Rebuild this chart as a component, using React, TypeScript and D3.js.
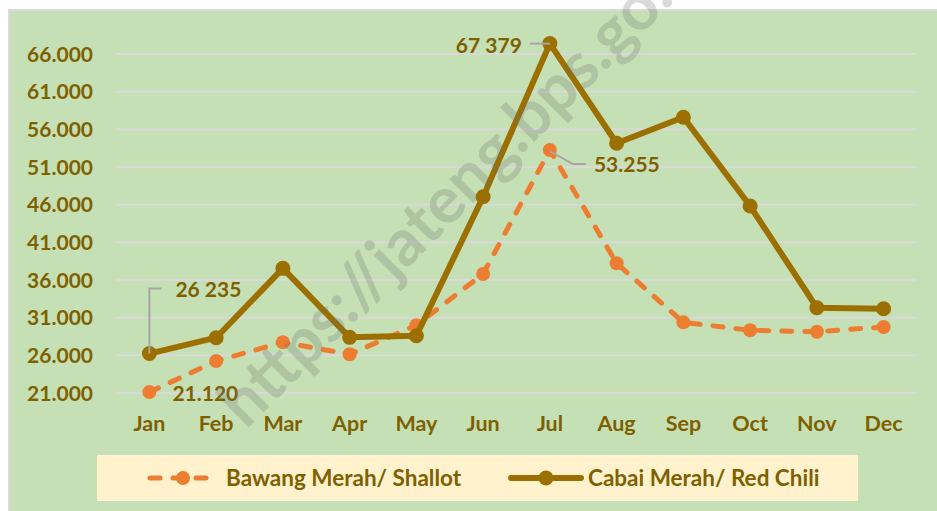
import React from "react";
import * as d3 from "d3";

// monthly prices (Rp/kg)
const months = ["Jan", "Feb", "Mar", "Apr", "May", "Jun", "Jul", "Aug", "Sep", "Oct", "Nov", "Dec"];
const shallot = [21120, 25250, 27730, 26140, 30000, 36800, 53255, 38220, 30380, 29320, 29140, 29760];
const chili = [26235, 28340, 37550, 28390, 28600, 47060, 67379, 54150, 57600, 45820, 32320, 32190];
const yTicks = [21000, 26000, 31000, 36000, 41000, 46000, 51000, 56000, 61000, 66000];
const seriesNames = ["Bawang Merah/ Shallot", "Cabai Merah/ Red Chili"];

const W = 937;
const H = 511;
const FONT = "Lato, 'Open Sans', sans-serif";
const TXT = "#7F6000";
const ORANGE = "#ED7D31";
const GOLD = "#9C7000";

const dotFmt = d3.formatLocale({ decimal: ",", thousands: ".", grouping: [3], currency: ["", ""] }).format(",");
const spaceFmt = d3.formatLocale({ decimal: ",", thousands: " ", grouping: [3], currency: ["", ""] }).format(",");

export default function App() {
  const x = d3.scalePoint<string>().domain(months).range([116, 917]).padding(0.5);
  const y = d3.scaleLinear().domain([21000, 66000]).range([393, 54]);

  const line = d3
    .line<number>()
    .x((_, i) => x(months[i]) as number)
    .y(d => y(d));

  // points that carry a data label
  const sJan = { x: x("Jan") as number, y: y(shallot[0]) };
  const sJul = { x: x("Jul") as number, y: y(shallot[6]) };
  const cJan = { x: x("Jan") as number, y: y(chili[0]) };
  const cJul = { x: x("Jul") as number, y: y(chili[6]) };

  return (
    <svg width={W} height={H} style={{ position: "absolute", left: 0, top: 0 }} fontFamily={FONT}>
      <rect x={0} y={0} width={W} height={H} fill="#fff" />
      <rect x={9} y={10} width={W + 10} height={H} fill="#C5E0B4" stroke="#D9D9D9" strokeWidth={2} />

      {/* gridlines */}
      {yTicks.map(t => (
        <line key={t} x1={116} x2={917} y1={y(t)} y2={y(t)} stroke="#D9D9D9" strokeWidth={2} />
      ))}

      {/* y labels */}
      {yTicks.map(t => (
        <text key={"l" + t} x={93} y={y(t)} dy="0.36em" textAnchor="end" fontSize={21} fontWeight={700} fill={TXT}>
          {dotFmt(t)}
        </text>
      ))}

      {/* x labels */}
      {months.map(m => (
        <text key={m} x={x(m)} y={431} textAnchor="middle" fontSize={21.5} fontWeight={700} fill={TXT}>
          {m}
        </text>
      ))}

      {/* shallot */}
      <path d={line(shallot) as string} fill="none" stroke={ORANGE} strokeWidth={5} strokeDasharray="10 13" strokeLinecap="round" />
      {shallot.map((v, i) => (
        <circle key={"s" + i} cx={x(months[i])} cy={y(v)} r={7} fill={ORANGE} />
      ))}

      {/* chili */}
      <path d={line(chili) as string} fill="none" stroke={GOLD} strokeWidth={6} strokeLinejoin="round" />
      {chili.map((v, i) => (
        <circle key={"c" + i} cx={x(months[i])} cy={y(v)} r={7.5} fill={GOLD} />
      ))}

      {/* data labels with leader lines */}
      <path d={`M${cJan.x},${cJan.y}V${cJan.y - 65}h12`} fill="none" stroke="#A6A6A6" strokeWidth={2} />
      <text x={cJan.x + 26} y={cJan.y - 64} dy="0.36em" fontSize={21} fontWeight={700} fill={TXT}>
        {spaceFmt(chili[0])}
      </text>
      <text x={sJan.x + 23} y={sJan.y + 1} dy="0.36em" fontSize={21} fontWeight={700} fill={TXT}>
        {dotFmt(shallot[0])}
      </text>
      <path d={`M${cJul.x},${cJul.y}h-20`} fill="none" stroke="#A6A6A6" strokeWidth={2} />
      <text x={cJul.x - 28} y={cJul.y + 1.5} dy="0.36em" textAnchor="end" fontSize={21} fontWeight={700} fill={TXT}>
        {spaceFmt(chili[6])}
      </text>
      <path d={`M${sJul.x},${sJul.y + 1}L${sJul.x + 23},${sJul.y + 14}h13`} fill="none" stroke="#A6A6A6" strokeWidth={2} />
      <text x={sJul.x + 44} y={sJul.y + 14} dy="0.36em" fontSize={21} fontWeight={700} fill={TXT}>
        {dotFmt(shallot[6])}
      </text>

      {/* legend */}
      <rect x={97} y={455} width={761} height={46} fill="#FFF2CC" />
      <line x1={150} x2={210} y1={478} y2={478} stroke={ORANGE} strokeWidth={5} strokeDasharray="10 13" strokeLinecap="round" />
      <circle cx={183} cy={478} r={7} fill={ORANGE} />
      <text x={226} y={478} dy="0.36em" fontSize={22.5} fontWeight={700} fill={TXT}>
        {seriesNames[0]}
      </text>
      <line x1={511} x2={581} y1={478} y2={478} stroke={GOLD} strokeWidth={6} strokeLinecap="round" />
      <circle cx={546} cy={478} r={7.5} fill={GOLD} />
      <text x={588} y={478} dy="0.36em" fontSize={22.5} fontWeight={700} fill={TXT}>
        {seriesNames[1]}
      </text>

      {/* watermark, drawn over everything */}
      <text
        transform="translate(246,430) rotate(-45)"
        fontSize={65}
        fontWeight={700}
        fill="#6a6a6a"
        fillOpacity={0.25}
      >
        https://jateng.bps.go.id
      </text>
    </svg>
  );
}
